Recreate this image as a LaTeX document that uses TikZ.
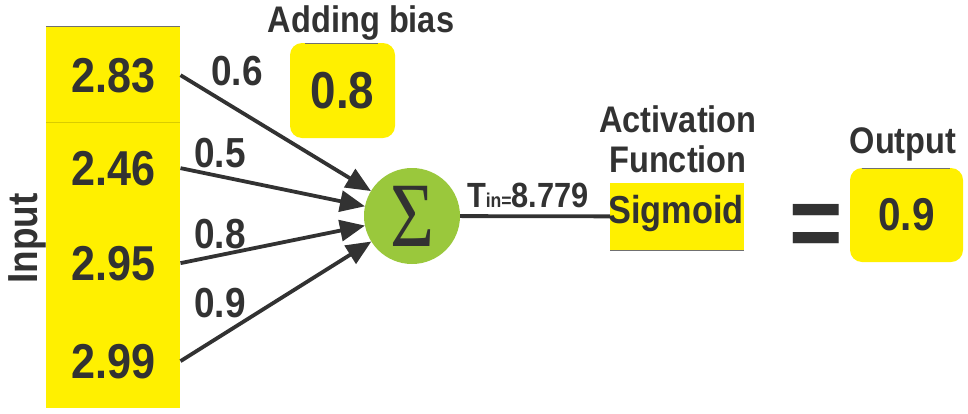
\documentclass[tikz,border=0pt]{standalone}
\usepackage{fontspec}
\newfontfamily\af[FakeStretch=0.88]{Liberation Sans}
\newfontfamily\sigf[FakeStretch=0.82]{Liberation Serif}
\usetikzlibrary{arrows.meta}
\definecolor{ybg}{RGB}{255,240,0}
\definecolor{grn}{RGB}{154,200,60}
\definecolor{ink}{RGB}{50,50,50}
\begin{document}
\begin{tikzpicture}[x=1pt,y=-1pt,
  every node/.style={inner sep=0pt, outer sep=0pt, text=ink},
  num/.style={font=\af\bfseries\fontsize{49}{49}\selectfont, anchor=base, minimum width=134pt},
  wt/.style={font=\af\bfseries\fontsize{42}{42}\selectfont, anchor=base},
  lbl/.style={font=\af\bfseries\fontsize{37}{40}\selectfont, anchor=base, align=center},
  arr/.style={draw=ink, line width=3.8pt, -{Triangle[length=25pt,width=21pt]}},
  ybox/.style={fill=ybg, rounded corners=12pt},
  edgeline/.style={draw=ink!70, line width=0.8pt}]
\useasboundingbox (0,0) rectangle (968,413);

% input column
\fill[ybg] (46,26) rectangle (180,408);
\draw[edgeline] (46,26) -- (180,26);
\draw[ybg!85!black, line width=0.5pt] (46,122) -- (180,122);
\node[num] (i1) at (113.5,92) {2.83};
\node[num] (i2) at (113.5,185) {2.46};
\node[num] (i3) at (113.5,280) {2.95};
\node[num] (i4) at (113.5,378) {2.99};
\node[font=\af\bfseries\fontsize{42}{42}\selectfont, rotate=90, anchor=base] (inp) at (37,238.5) {Input};

% bias
\node[lbl] (biaslbl) at (361,32) {Adding bias};
\node[ybox, minimum width=105pt, minimum height=95pt, font=\af\bfseries\fontsize{52}{52}\selectfont] (bias) at (342.5,90.5) {0.8};
\draw[edgeline] (305,43) -- (378,43);

% summation
\node[circle, fill=grn, minimum size=96pt, font=\sigf\fontsize{92}{92}\selectfont] (sum) at (412,216) {Σ};

% weights
\node[wt] (w1) at (237,85) {0.6};
\node[wt] (w2) at (220,167) {0.5};
\node[wt] (w3) at (220,248) {0.8};
\node[wt] (w4) at (220,317) {0.9};

\draw[arr] (i1.east) -- (sum);
\draw[arr] (i2.east) -- (sum);
\draw[arr] (i3.east) -- (sum);
\draw[arr] (i4.east) -- (sum);

% activation
\node[lbl] (actlbl) at (678,172) {Activation\\Function};
\node[fill=ybg, minimum width=134pt, minimum height=67pt] (sig) at (677,216.5) {};
\node[font=\af\bfseries\fontsize{39}{39}\selectfont, anchor=base] (sigtxt) at (676,223) {Sigmoid};
\draw[edgeline] (610,250) -- (744,250);
\draw[ink, line width=3.8pt] (sum) -- (sig);
\node[anchor=base west, font=\af\bfseries\fontsize{35}{35}\selectfont] (tin) at (467,207) {T{\fontsize{20}{20}\selectfont in=}8.779};

% equals and output
\node[font=\af\bfseries\fontsize{104}{104}\selectfont, anchor=base] (eq) at (816,258) {=};
\node[lbl] (outlbl) at (903,153) {Output};
\node[ybox, minimum width=113pt, minimum height=94pt, font=\af\bfseries\fontsize{46}{46}\selectfont] (out) at (906.5,215) {0.9};
\draw[edgeline] (862,168) -- (950,168);
\end{tikzpicture}
\end{document}
